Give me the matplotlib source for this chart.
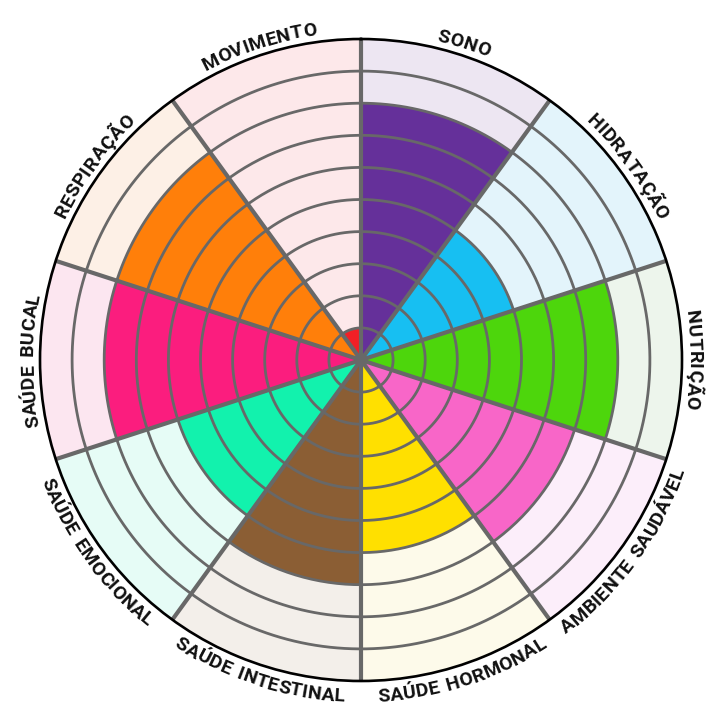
import numpy as np
import matplotlib
matplotlib.use("Agg")
import matplotlib.pyplot as plt
from matplotlib.font_manager import FontProperties, findfont, get_font
from matplotlib.ft2font import LoadFlags, Kerning

# wheel data (clockwise from the top)
categories = ["SONO", "HIDRATAÇÃO", "NUTRIÇÃO", "AMBIENTE SAUDÁVEL", "SAÚDE HORMONAL",
              "SAÚDE INTESTINAL", "SAÚDE EMOCIONAL", "SAÚDE BUCAL", "RESPIRAÇÃO", "MOVIMENTO"]
scores = [8, 5, 8, 7, 6, 7, 6, 8, 8, 1]
max_score = 10
colors = ["#65309a", "#17bff2", "#4dd60c", "#f866c8", "#ffe000",
          "#8b5e34", "#12f2ad", "#fb1d7e", "#ff7f0a", "#f21f26"]
light_colors = ["#ede6f2", "#e3f4fb", "#edf5ec", "#fceefa", "#fdfaea",
                "#f3efea", "#e6fcf6", "#fce6f0", "#fdf0e6", "#fde8ea"]

W = 720
DPI = 100
cx, cy, R = 361, 360, 321   # pixels, y measured from the top

fig = plt.figure(figsize=(7.2, 7.2), dpi=DPI)
fig.patch.set_facecolor("white")
ax = fig.add_axes([(cx - R) / W, (W - cy - R) / W, 2 * R / W, 2 * R / W], projection="polar")
ax.set_theta_zero_location("N")
ax.set_theta_direction(-1)

n = len(categories)
width = 2 * np.pi / n
theta = np.arange(n) * width

ax.bar(theta, [max_score] * n, width=width, align="edge", color=light_colors, linewidth=0)
ax.bar(theta, scores, width=width, align="edge", color=colors, linewidth=0)

grid_col = "#686868"
t = np.linspace(0, 2 * np.pi, 500)
for r in range(1, max_score):
    ax.plot(t, np.full_like(t, r), color=grid_col, lw=2.0)
for th in theta:
    ax.plot([th, th], [0, max_score], color=grid_col, lw=3.0, solid_capstyle="butt")

ax.set_ylim(0, max_score)
ax.grid(False)
ax.set_xticks([])
ax.set_yticks([])
ax.spines["polar"].set_color("black")
ax.spines["polar"].set_linewidth(1.9)

# curved labels around the rim
fp = FontProperties(family=["Roboto", "DejaVu Sans"], weight="bold", size=14)
font = get_font(findfont(fp))
font.set_size(fp.get_size_in_points(), DPI)
tracking = 0.2     # extra px between letters
space_extra = 2.5  # wider word gaps


def advances(s):
    # x of each glyph's centre, and the total length, in pixels
    xs, pos, prev = [], 0.0, None
    for ch in s:
        g = font.load_char(ord(ch), flags=LoadFlags.NO_HINTING)
        idx = font.get_char_index(ord(ch))
        if prev is not None:
            pos += font.get_kerning(prev, idx, Kerning.DEFAULT) / 64
        adv = g.linearHoriAdvance / 65536
        if ch == " ":
            adv += space_extra
        xs.append(pos + adv / 2)
        pos += adv + tracking
        prev = idx
    return xs, pos - tracking


for i, label in enumerate(categories):
    tc = np.deg2rad((i + 0.5) * 360 / n)
    bottom = 90 < np.rad2deg(tc) < 270
    xs, total = advances(label)
    for ch, xc in zip(label, xs):
        if ch == " ":
            continue
        s = xc - total / 2
        if bottom:
            r = R + 21
            ang = tc - s / r
            rot = 180 - np.rad2deg(ang)
        else:
            r = R + 7
            ang = tc + s / r
            rot = -np.rad2deg(ang)
        x = cx + r * np.sin(ang)
        y = (W - cy) + r * np.cos(ang)
        fig.text(x / W, y / W, ch, fontproperties=fp, rotation=rot,
                 ha="center", va="baseline", rotation_mode="anchor", color="#111111")

fig.savefig("out.png", dpi=DPI)
